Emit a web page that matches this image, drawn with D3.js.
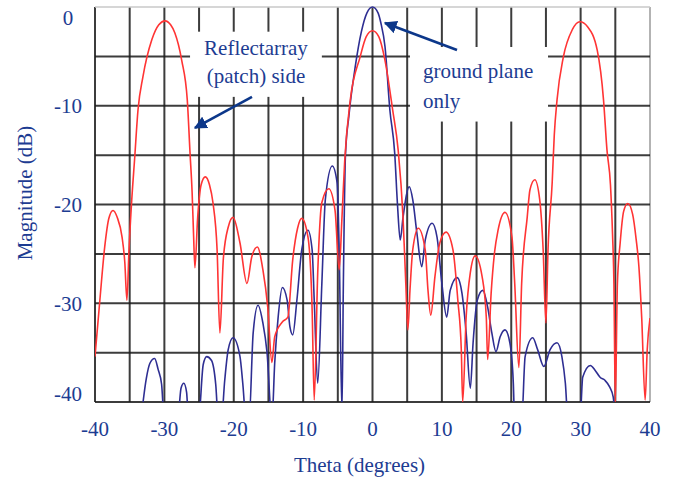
<!DOCTYPE html>
<html>
<head>
<meta charset="utf-8">
<script src="https://cdn.jsdelivr.net/npm/d3@7"></script>
<style>
  body { margin: 0; background: #fff; }
  text { font-family: "Liberation Serif", "Times New Roman", serif; }
</style>
</head>
<body>
<script>
const width = 676;
const height = 481;

// Reflectarray (patch) side, [theta deg, magnitude dB]
const reflectarray = [
  [-40,-35.4],[-39.3,-29.7],[-38.6,-24.3],[-38.0,-21.4],[-37.4,-20.6],[-36.8,-21.3],[-36.1,-23.3],[-35.7,-25.9],[-35.4,-29.7],
  [-35.1,-24.6],[-34.7,-19.5],[-34.3,-15.5],[-33.8,-10.4],[-33.1,-7.1],[-31.8,-3.3],[-30.8,-1.8],[-29.9,-1.4],[-29.1,-1.8],[-28.5,-2.6],
  [-27.5,-5.4],[-26.7,-9.4],[-26.3,-14.8],[-26.0,-18.8],[-25.8,-22.9],[-25.6,-26.4],
  [-25.2,-21.3],[-24.7,-18.0],[-24.1,-17.2],[-23.5,-18.0],[-23.0,-19.8],[-22.4,-24.6],[-22.0,-33.0],
  [-21.5,-25.5],[-20.8,-22.3],[-20.1,-21.3],[-19.1,-23.9],[-18.1,-28.0],
  [-17.4,-25.3],[-16.6,-24.3],[-15.8,-26.6],[-15.1,-30.4],[-14.5,-36.0],
  [-14.1,-33.4],[-13.0,-31.9],[-12.2,-31.4],[-11.5,-25.6],[-10.8,-22.4],[-10.2,-21.4],[-9.3,-23.3],[-8.7,-30.7],[-8.4,-39.8],
  [-7.9,-27.0],[-7.3,-19.8],[-6.3,-18.4],[-5.4,-20.6],[-4.8,-26.6],
  [-4.4,-21.3],[-4.0,-15.5],[-3.2,-9.4],[-1.8,-5.1],[-0.9,-3.0],[0,-2.4],[0.9,-3.0],[1.8,-5.4],[2.9,-10.4],[3.7,-14.5],
  [4.4,-21.3],[4.8,-28.0],[5.1,-32.7],
  [5.4,-28.7],[5.8,-24.6],[6.6,-22.4],[7.6,-24.6],[8.0,-28.7],[8.4,-31.2],
  [9.0,-27.3],[9.7,-23.9],[10.6,-22.8],[11.6,-24.6],[12.3,-29.7],[12.8,-34.7],[13.0,-40],
  [13.5,-31.4],[14.1,-26.9],[14.8,-25.2],[15.8,-27.3],[16.4,-31.4],[16.6,-35.7],
  [17.1,-29.0],[17.6,-24.8],[18.1,-22.6],[19.1,-20.8],[20.1,-23.3],[20.5,-28.0],[21.1,-36.5],
  [21.5,-28.0],[22.3,-21.3],[22.7,-18.5],[23.4,-17.5],[24.1,-19.5],[24.6,-24.6],[25.0,-32.0],
  [25.3,-24.6],[25.9,-17.8],[26.2,-13.0],[26.6,-9.4],[27.5,-5.1],[28.8,-2.3],[29.9,-1.5],[31.0,-2.0],[32.4,-4.4],[33.3,-9.4],
  [33.8,-14.5],[34.3,-18.0],[34.6,-23.0],[34.8,-28.0],[35.0,-40],
  [35.3,-28.0],[35.7,-23.9],[36.2,-20.7],[36.8,-19.9],[37.5,-21.0],[38.0,-23.5],[38.4,-26.3],[38.8,-31.4],[39.3,-39.8],
  [39.6,-34.7],[40,-31.5]
];

// ground plane only (values below -40 dB are clipped by the plot)
const groundPlane = [
  [-33.4,-42],[-32.6,-37.6],[-32.1,-36.1],[-31.4,-35.6],[-30.9,-36.7],[-30.4,-38.2],[-30.0,-42],
  [-28.1,-42],[-27.6,-38.6],[-27.2,-38.1],[-26.8,-39.0],[-26.5,-42],
  [-25.1,-42],[-24.4,-36.2],[-23.9,-35.4],[-23.2,-35.8],[-22.6,-38.2],[-22.2,-42],
  [-21.8,-42],[-21.3,-37.8],[-20.8,-34.7],[-20.1,-33.5],[-19.1,-35.4],[-18.7,-38.1],[-18.2,-42],
  [-17.8,-42],[-17.2,-33.0],[-16.5,-30.2],[-15.8,-32.0],[-15.2,-35.0],[-14.5,-42],
  [-14.1,-36.1],[-13.6,-31.4],[-13.0,-28.4],[-12.3,-29.7],[-11.9,-32.4],[-11.5,-33.2],
  [-10.9,-29.7],[-10.2,-24.6],[-9.3,-22.6],[-8.7,-24.6],[-8.4,-29.7],[-7.9,-38.1],
  [-7.3,-28.0],[-6.8,-19.5],[-5.8,-16.1],[-5.1,-17.8],[-4.8,-24.6],[-4.4,-41],
  [-4.2,-28.0],[-3.9,-15.0],[-3.4,-11.0],[-2.5,-6.1],[-1.6,-2.5],[-0.8,-0.6],[0,0],[0.8,-0.6],[1.2,-1.6],[1.8,-4.0],
  [2.5,-10.4],[3.2,-14.8],[3.6,-20.0],[4.0,-23.6],
  [4.4,-21.3],[5.3,-18.2],[5.8,-19.5],[6.4,-22.9],[7.1,-26.3],
  [7.6,-23.6],[8.6,-21.9],[9.3,-23.3],[10.0,-28.0],[10.7,-31.4],
  [11.2,-28.7],[12.2,-27.4],[12.9,-29.0],[13.5,-33.0],[14.1,-38.6],
  [14.5,-34.0],[15.1,-29.7],[15.9,-28.7],[16.6,-30.4],[17.2,-33.0],[17.8,-34.9],
  [18.4,-33.4],[19.1,-32.7],[19.8,-34.0],[20.3,-38.1],[20.5,-42],
  [21.5,-42],[22.0,-35.4],[23.1,-33.5],[23.8,-34.7],[24.7,-36.4],
  [25.6,-34.7],[26.6,-34.0],[27.3,-35.4],[27.8,-38.1],[28.2,-42],
  [29.9,-42],[30.3,-37.5],[31.4,-36.3],[32.1,-36.8],[32.8,-37.5],[33.5,-37.8],[34.2,-38.5],[34.7,-39.5],[35.0,-42]
];

const xTicks = [-40, -30, -20, -10, 0, 10, 20, 30, 40];
const yTicks = [0, -10, -20, -30, -40];
const xGrid = d3.range(-40, 41, 5);
const yGrid = d3.range(0, -41, -5);

const textBlue = "#1d3c92";
const arrowBlue = "#0c378a";

const svg = d3.select("body").append("svg")
  .attr("width", width)
  .attr("height", height);

const x = d3.scaleLinear().domain([-40, 40]).range([95, 650]);
const y = d3.scaleLinear().domain([0, -40]).range([7, 402]);

// gridlines
const grid = svg.append("g");
grid.selectAll(".gx")
  .data(xGrid)
  .join("line")
  .attr("x1", d => x(d)).attr("x2", d => x(d))
  .attr("y1", y(0)).attr("y2", y(-40))
  .attr("stroke", d => d === 40 ? "#9a9a9a" : "#1a1a1a")
  .attr("stroke-opacity", d => d === 40 ? 1 : 0.85)
  .attr("stroke-width", d => d === 40 ? 1.5 : 2);
grid.selectAll(".gy")
  .data(yGrid)
  .join("line")
  .attr("y1", d => y(d)).attr("y2", d => y(d))
  .attr("x1", x(-40)).attr("x2", x(40))
  .attr("stroke", d => d === 0 ? "#c8c8c8" : "#1a1a1a")
  .attr("stroke-opacity", d => d === 0 ? 1 : 0.85)
  .attr("stroke-width", d => d === 0 ? 1.5 : 2);

// annotation boxes (in data coordinates)
const boxes = [
  { x0: -26.3, x1: -7.3, y0: -2.5, y1: -9.1 },
  { x0: 5.4, x1: 25.3, y0: -4.05, y1: -11.6 }
];
svg.append("g").selectAll("rect")
  .data(boxes)
  .join("rect")
  .attr("x", d => x(d.x0))
  .attr("y", d => y(d.y0))
  .attr("width", d => x(d.x1) - x(d.x0))
  .attr("height", d => y(d.y1) - y(d.y0))
  .attr("fill", "#fff");

// curves
svg.append("clipPath").attr("id", "plot")
  .append("rect")
  .attr("x", x(-40)).attr("y", y(0) - 2)
  .attr("width", x(40) - x(-40)).attr("height", y(-40) - y(0) + 2);

const line = d3.line()
  .x(d => x(d[0]))
  .y(d => y(d[1]))
  .curve(d3.curveMonotoneX);

const curves = svg.append("g").attr("clip-path", "url(#plot)");
curves.append("path")
  .datum(groundPlane)
  .attr("d", line)
  .attr("fill", "none")
  .attr("stroke", "#2e2e92")
  .attr("stroke-width", 1.6);
curves.append("path")
  .datum(reflectarray)
  .attr("d", line)
  .attr("fill", "none")
  .attr("stroke", "#ff3434")
  .attr("stroke-width", 1.6);

// tick labels
svg.append("g").selectAll("text")
  .data(xTicks)
  .join("text")
  .attr("x", d => x(d))
  .attr("y", 436)
  .attr("text-anchor", "middle")
  .attr("font-size", 21)
  .attr("fill", textBlue)
  .text(d => d);

svg.append("g").selectAll("text")
  .data(yTicks)
  .join("text")
  .attr("x", 68)
  .attr("y", d => Math.min(Math.max(y(d), y(0) + 11), y(-40) - 8))
  .attr("dy", "0.35em")
  .attr("text-anchor", "middle")
  .attr("font-size", 21)
  .attr("fill", textBlue)
  .text(d => d);

// axis titles
svg.append("text")
  .attr("x", (x(-40) + x(40)) / 2 - 13)
  .attr("y", 472)
  .attr("text-anchor", "middle")
  .attr("font-size", 21)
  .attr("fill", textBlue)
  .text("Theta (degrees)");

svg.append("text")
  .attr("transform", `translate(32, 193) rotate(-90)`)
  .attr("text-anchor", "middle")
  .attr("font-size", 21)
  .attr("fill", textBlue)
  .text("Magnitude (dB)");

// annotations
const notes = [
  { x: -16.8, y: -4.86, anchor: "middle", text: "Reflectarray" },
  { x: -16.8, y: -7.7, anchor: "middle", text: "(patch) side" },
  { x: 7.28, y: -7.19, anchor: "start", text: "ground plane" },
  { x: 7.28, y: -10.23, anchor: "start", text: "only" }
];
svg.append("g").selectAll("text")
  .data(notes)
  .join("text")
  .attr("x", d => x(d.x))
  .attr("y", d => y(d.y))
  .attr("text-anchor", d => d.anchor)
  .attr("font-size", 21)
  .attr("fill", textBlue)
  .text(d => d.text);

svg.append("defs").append("marker")
  .attr("id", "head")
  .attr("viewBox", "0 0 10 10")
  .attr("refX", 9).attr("refY", 5)
  .attr("markerWidth", 5).attr("markerHeight", 5)
  .attr("orient", "auto")
  .append("path")
  .attr("d", "M0,0L10,5L0,10z")
  .attr("fill", arrowBlue);

const arrows = [
  { from: [-17.37, -9.11], to: [-25.59, -12.25] },
  { from: [12.18, -4.35], to: [1.8, -1.62] }
];
svg.append("g").selectAll("line")
  .data(arrows)
  .join("line")
  .attr("x1", d => x(d.from[0])).attr("y1", d => y(d.from[1]))
  .attr("x2", d => x(d.to[0])).attr("y2", d => y(d.to[1]))
  .attr("stroke", arrowBlue)
  .attr("stroke-width", 2.6)
  .attr("marker-end", "url(#head)");
</script>
</body>
</html>
